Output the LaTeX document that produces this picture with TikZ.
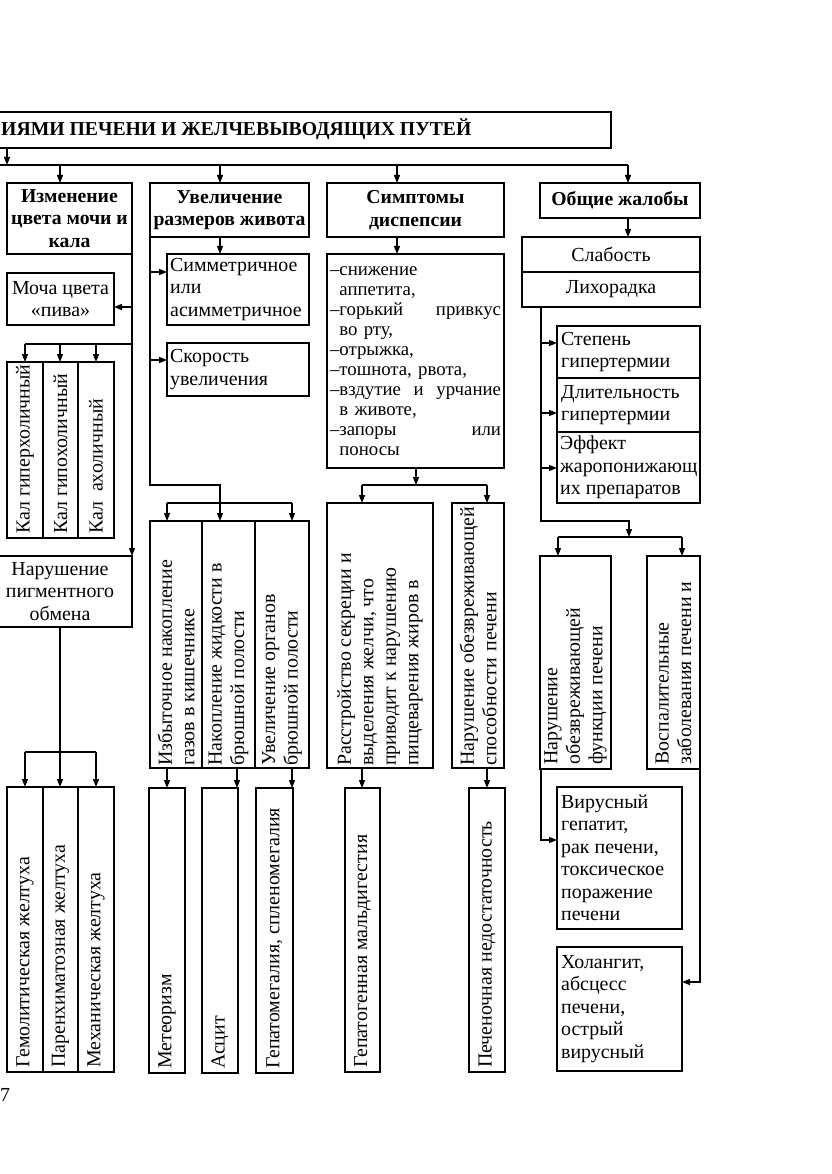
\documentclass[tikz,border=0pt]{standalone}
\usepackage{fontspec}
\setmainfont{Liberation Serif}
\usetikzlibrary{arrows.meta,fit}
\newcommand\mybox[5]{\node[box, fit={(#2,#3) (#4,#5)}] (#1) {};}
\begin{document}
\begin{tikzpicture}[x=1pt,y=-1pt,
  box/.style={draw, line width=1.2pt, inner sep=0pt, outer sep=0pt},
  arr/.style={line width=1.2pt, -{Triangle[length=8pt,width=6pt]}},
  ln/.style={line width=1.2pt},
  txt/.style={font=\fontsize{19.9}{22.5}\selectfont, inner sep=0pt},
  btxt/.style={font=\fontsize{19.7}{22.5}\selectfont\bfseries, inner sep=0pt, align=center},
  rtxt/.style={txt, rotate=90, anchor=west, align=left},
]
\useasboundingbox (0,0) rectangle (831,1174);
% ---------- boxes
\mybox{title}{-250}{112}{611}{148}
\mybox{izm}{7}{183}{132}{254}
\mybox{uvel}{150}{183}{309}{237}
\mybox{symp}{327}{183}{504}{237}
\mybox{obsh}{540}{183}{700}{218}
\mybox{slab}{522}{237}{700}{272}
\mybox{lih}{522}{272}{700}{307}
\mybox{mocha}{7}{273}{114}{325}
\mybox{kal1}{7}{362}{43}{538}
\mybox{kal2}{43}{362}{78}{538}
\mybox{kal3}{78}{362}{114}{538}
\mybox{narpig}{-12}{556}{132}{627}
\mybox{zhel1}{7}{787}{43}{1072}
\mybox{zhel2}{43}{787}{78}{1072}
\mybox{zhel3}{78}{787}{114}{1072}
\mybox{simm}{167}{254}{309}{325}
\mybox{skor}{167}{343}{309}{396}
\mybox{izb}{150}{521}{202}{768}
\mybox{nak}{202}{521}{255}{768}
\mybox{uvorg}{255}{521}{309}{768}
\mybox{met}{149}{788}{185}{1073}
\mybox{asc}{202}{788}{238}{1073}
\mybox{gep}{256}{788}{293}{1073}
\mybox{list}{327}{254}{504}{468}
\mybox{rasstr}{327}{503}{433}{768}
\mybox{narobez}{452}{503}{504}{768}
\mybox{malg}{345}{788}{380}{1072}
\mybox{pech}{469}{788}{505}{1072}
\mybox{stepen}{557}{326}{700}{378}
\mybox{dlit}{557}{378}{700}{432}
\mybox{eff}{557}{432}{700}{503}
\mybox{narfun}{540}{556}{611}{769}
\mybox{vosp}{647}{556}{700}{769}
\mybox{vir}{557}{787}{682}{929}
\mybox{hol}{557}{947}{682}{1071}
% ---------- texts
\node[btxt, anchor=west] (ttitle) at (1,129) {ИЯМИ ПЕЧЕНИ И ЖЕЛЧЕВЫВОДЯЩИХ ПУТЕЙ};
\node[btxt] (tizm) at (izm.center) {Изменение\\цвета мочи и\\кала};
\node[btxt] (tuvel) at (uvel.center) {Увеличение\\размеров живота};
\node[btxt] (tsymp) at (symp.center) {Симптомы\\диспепсии};
\node[btxt] (tobsh) at (obsh.center) {Общие жалобы};
\node[txt] (tslab) at (slab.center) {Слабость};
\node[txt] (tlih) at (lih.center) {Лихорадка};
\node[txt, align=center] (tmocha) at (mocha.center) {Моча цвета\\«пива»};
\node[txt, align=center] (tnarpig) at (narpig.center) {Нарушение\\пигментного\\обмена};
\node[txt, align=left, anchor=west] (tsimm) at ([xshift=3pt]simm.west) {Симметричное\\или\\асимметричное};
\node[txt, align=left, anchor=west] (tskor) at ([xshift=3pt]skor.west) {Скорость\\увеличения};
\node[txt, align=left, anchor=west] (tstep) at ([xshift=4pt]stepen.west) {Степень\\гипертермии};
\node[txt, align=left, anchor=west] (tdlit) at ([xshift=4pt]dlit.west) {Длительность\\гипертермии};
\node[txt, align=left, anchor=west] (teff) at ([xshift=3pt]eff.west) {Эффект\\жаропонижающ\\их препаратов};
\node[txt, align=left, anchor=west] (tvir) at ([xshift=4pt]vir.west) {Вирусный\\гепатит,\\рак печени,\\токсическое\\поражение\\печени};
\node[txt, align=left, anchor=west] (thol) at ([xshift=4pt]hol.west) {Холангит,\\абсцесс\\печени,\\острый\\вирусный};
\node[txt, font=\fontsize{18.8}{20}\selectfont, text width=171pt, align=left] (tlist) at (list.center)
 {–снижение\\
  \phantom{–}аппетита,\\
  –горький\hfill привкус\\
  \phantom{–}во рту,\\
  –отрыжка,\\
  –тошнота, рвота,\\
  –вздутие\hfill и\hfill урчание\\
  \phantom{–}в животе,\\
  –запоры\hfill или\\
  \phantom{–}поносы};
% rotated
\node[rtxt] (tkal1) at ([yshift=4pt]kal1.south) {Кал гиперхоличный};
\node[rtxt] (tkal2) at ([yshift=4pt]kal2.south) {Кал гипохоличный};
\node[rtxt] (tkal3) at ([yshift=4pt]kal3.south) {Кал \ ахоличный};
\node[rtxt] (tzh1) at ([yshift=4pt]zhel1.south) {Гемолитическая желтуха};
\node[rtxt] (tzh2) at ([yshift=4pt]zhel2.south) {Паренхиматозная желтуха};
\node[rtxt] (tzh3) at ([yshift=4pt]zhel3.south) {Механическая желтуха};
\node[rtxt] (tizb) at ([yshift=2pt]izb.south) {Избыточное накопление\\газов в кишечнике};
\node[rtxt] (tnak) at ([yshift=2pt]nak.south) {Накопление жидкости в\\брюшной полости};
\node[rtxt] (tuvorg) at ([yshift=2pt]uvorg.south) {Увеличение органов\\брюшной полости};
\node[rtxt] (tmet) at ([yshift=4pt]met.south) {Метеоризм};
\node[rtxt] (tasc) at ([yshift=4pt]asc.south) {Асцит};
\node[rtxt] (tgep) at ([yshift=4pt]gep.south) {Гепатомегалия, спленомегалия};
\node[rtxt] (trasstr) at ([yshift=2pt]rasstr.south) {Расстройство секреции и\\выделения желчи, что\\приводит к нарушению\\пищеварения жиров в};
\node[rtxt, text width=259pt] (tnarobez) at ([yshift=2pt]narobez.south) {Нарушение\hfill обезвреживающей\\способности печени};
\node[rtxt] (tmalg) at ([yshift=4pt]malg.south) {Гепатогенная мальдигестия};
\node[rtxt] (tpech) at ([yshift=4pt]pech.south) {Печеночная недостаточность};
\node[rtxt] (tnarfun) at ([yshift=4pt]narfun.south) {Нарушение\\обезвреживающей\\функции печени};
\node[rtxt] (tvosp) at ([yshift=4pt]vosp.south) {Воспалительные\\заболевания печени и};
\node[txt] (pg) at (5,1095) {7};
% ---------- connectors
\coordinate (busL) at (-5,165);
\coordinate (busR) at (628,165);
\draw[ln] (busL) -- (busR);
\draw[arr] (title.south -| 7,0) -- (busL -| 7,0);
\draw[arr] (busL -| 60,0) -- (60,0 |- izm.north);
\draw[arr] (busL -| 220,0) -- (220,0 |- uvel.north);
\draw[arr] (busL -| 397,0) -- (397,0 |- symp.north);
\draw[arr] (busR) -- (busR |- obsh.north);
\draw[arr] (obsh.south -| busR) -- (busR |- slab.north);
% left column
\draw[arr] (izm.south east) -- (narpig.north east);
\draw[arr] (izm.east |- 0,307) -- (mocha.east |- 0,307);
\coordinate (kb) at (25,344);
\draw[ln] (izm.east |- kb) -- (kb);
\draw[arr] (kb) -- (kb |- kal1.north);
\draw[arr] (60,344) -- (60,0 |- kal2.north);
\draw[arr] (96,344) -- (96,0 |- kal3.north);
\coordinate (zb) at (60,752);
\draw[ln] (narpig.south) -- (zb);
\draw[ln] (25,752) -- (96,752);
\draw[arr] (25,752) -- (25,0 |- zhel1.north);
\draw[arr] (zb) -- (zb |- zhel2.north);
\draw[arr] (96,752) -- (96,0 |- zhel3.north);
% second column
\draw[arr] (uvel.south -| 220,0) -- (220,0 |- simm.north);
\draw[arr] (uvel.south west) |- (220,485) -- (220,0 |- nak.north);
\draw[arr] (150,272) -- (simm.west |- 0,272);
\draw[arr] (150,360) -- (skor.west |- 0,360);
\draw[ln] (167,503) -- (292,503);
\draw[arr] (167,503) -- (167,0 |- izb.north);
\draw[arr] (292,503) -- (292,0 |- uvorg.north);
\draw[arr] (167,0 |- izb.south) -- (167,0 |- met.north);
\draw[arr] (237,0 |- nak.south) -- (237,0 |- asc.north);
\draw[arr] (292,0 |- uvorg.south) -- (292,0 |- gep.north);
% third column
\draw[arr] (symp.south -| 397,0) -- (397,0 |- list.north);
\draw[arr] (list.south -| 416,0) -- (416,485);
\draw[ln] (362,485) -- (487,485);
\draw[arr] (362,485) -- (362,0 |- rasstr.north);
\draw[arr] (487,485) -- (487,0 |- narobez.north);
\draw[arr] (362,0 |- rasstr.south) -- (362,0 |- malg.north);
\draw[arr] (487,0 |- narobez.south) -- (487,0 |- pech.north);
% right column
\draw[arr] (lih.south -| 541,0) |- (629,521) -- (629,537);
\draw[arr] (541,343) -- (stepen.west |- 0,343);
\draw[arr] (541,413) -- (dlit.west |- 0,413);
\draw[arr] (541,468) -- (eff.west |- 0,468);
\draw[ln] (558,537) -- (682,537);
\draw[arr] (558,537) -- (558,0 |- narfun.north);
\draw[arr] (682,537) -- (682,0 |- vosp.north);
\draw[arr] (narfun.south -| 541,0) |- (vir.west |- 0,840);
\draw[arr] (vosp.south east) |- (hol.east |- 0,982);
\end{tikzpicture}
\end{document}
